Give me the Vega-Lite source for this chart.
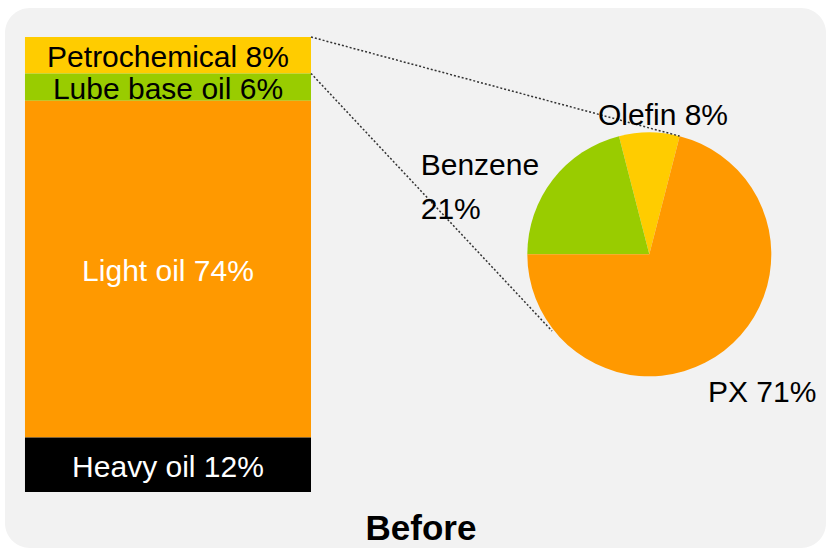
{
  "$schema": "https://vega.github.io/schema/vega-lite/v6.json",
  "width": 830,
  "height": 455,
  "autosize": {"type": "none"},
  "padding": {"left": 0, "right": 0, "top": 37, "bottom": 61},
  "background": "white",
  "config": {"view": {"stroke": null}},
  "title": {"text": "Before", "orient": "bottom", "anchor": "middle", "frame": "group", "baseline": "alphabetic", "offset": -8, "dx": 6, "font": "Liberation Sans", "fontSize": 35, "fontWeight": "bold", "color": "black"},
  "datasets": {
    "output": [
      {"name": "Petrochemical", "pct": 8, "label": "Petrochemical 8%"},
      {"name": "Lube base oil", "pct": 6, "label": "Lube base oil 6%"},
      {"name": "Light oil", "pct": 74, "label": "Light oil 74%"},
      {"name": "Heavy oil", "pct": 12, "label": "Heavy oil 12%"}
    ],
    "petro": [
      {"name": "Olefin", "pct": 8},
      {"name": "Benzene", "pct": 21},
      {"name": "PX", "pct": 71}
    ],
    "one": [{}]
  },
  "layer": [
    {
      "data": {"name": "one"},
      "mark": {"type": "rect", "color": "#f2f2f2", "cornerRadius": 25},
      "encoding": {
        "x": {"datum": 0.6, "type": "quantitative", "scale": {"domain": [0, 100]}, "axis": null},
        "x2": {"datum": 99.52},
        "y": {"datum": 106.37, "type": "quantitative", "scale": {"domain": [0, 100]}, "axis": null},
        "y2": {"datum": -12.31}
      }
    },
    {
      "data": {"name": "output"},
      "transform": [
        {"stack": "pct", "groupby": [], "sort": [{"field": "name", "order": "ascending"}], "as": ["lo", "hi"]}
      ],
      "mark": {"type": "bar"},
      "encoding": {
        "x": {"datum": 3.01, "type": "quantitative"},
        "x2": {"datum": 37.47},
        "y": {"field": "lo", "type": "quantitative"},
        "y2": {"field": "hi"},
        "color": {"field": "name", "type": "nominal", "legend": null,
          "scale": {"domain": ["Petrochemical", "Lube base oil", "Light oil", "Heavy oil", "Olefin", "Benzene", "PX"],
                    "range": ["#ffcc00", "#99cc00", "#ff9900", "#000000", "#ffcc00", "#99cc00", "#ff9900"]}}
      }
    },
    {
      "data": {"name": "output"},
      "transform": [
        {"stack": "pct", "groupby": [], "sort": [{"field": "name", "order": "ascending"}], "as": ["lo", "hi"]},
        {"fold": ["lo", "hi"], "as": ["k", "v"]}
      ],
      "mark": {"type": "text", "align": "center", "baseline": "alphabetic", "dy": 12, "font": "Liberation Sans", "fontSize": 30},
      "encoding": {
        "x": {"datum": 20.24, "type": "quantitative"},
        "y": {"aggregate": "mean", "field": "v", "type": "quantitative"},
        "text": {"field": "label"},
        "detail": {"field": "name"},
        "color": {"condition": {"test": "datum.name == 'Light oil' || datum.name == 'Heavy oil'", "value": "white"}, "value": "black"}
      }
    },
    {
      "data": {"name": "petro"},
      "mark": {"type": "arc", "radius": 122},
      "encoding": {
        "theta": {"field": "pct", "type": "quantitative", "stack": true, "scale": {"range": [4.712389, 10.995574]}},
        "order": {"field": "name", "sort": "ascending"},
        "color": {"field": "name", "type": "nominal", "legend": null},
        "x": {"datum": 78.23, "type": "quantitative"},
        "y": {"datum": 52.24, "type": "quantitative"}
      }
    },
    {
      "data": {"name": "one"},
      "mark": {"type": "rule", "strokeDash": [2, 2], "strokeWidth": 1.5, "color": "#333333"},
      "encoding": {
        "x": {"datum": 37.47, "type": "quantitative"},
        "y": {"datum": 100, "type": "quantitative"},
        "x2": {"datum": 81.88},
        "y2": {"datum": 78.22}
      }
    },
    {
      "data": {"name": "one"},
      "mark": {"type": "rule", "strokeDash": [2, 2], "strokeWidth": 1.5, "color": "#333333"},
      "encoding": {
        "x": {"datum": 37.47, "type": "quantitative"},
        "y": {"datum": 92, "type": "quantitative"},
        "x2": {"datum": 66.51},
        "y2": {"datum": 35.38}
      }
    },
    {
      "data": {"name": "one"},
      "mark": {"type": "text", "text": "Olefin 8%", "align": "center", "baseline": "alphabetic", "font": "Liberation Sans", "fontSize": 30, "color": "black"},
      "encoding": {
        "x": {"datum": 79.88, "type": "quantitative"},
        "y": {"datum": 80.66, "type": "quantitative"}
      }
    },
    {
      "data": {"name": "one"},
      "mark": {"type": "text", "text": ["Benzene", "21%"], "lineHeight": 44, "align": "left", "baseline": "alphabetic", "font": "Liberation Sans", "fontSize": 30, "color": "black"},
      "encoding": {
        "x": {"datum": 50.69, "type": "quantitative"},
        "y": {"datum": 69.67, "type": "quantitative"}
      }
    },
    {
      "data": {"name": "one"},
      "mark": {"type": "text", "text": "PX 71%", "align": "left", "baseline": "alphabetic", "font": "Liberation Sans", "fontSize": 30, "color": "black"},
      "encoding": {
        "x": {"datum": 85.3, "type": "quantitative"},
        "y": {"datum": 19.85, "type": "quantitative"}
      }
    }
  ]
}
